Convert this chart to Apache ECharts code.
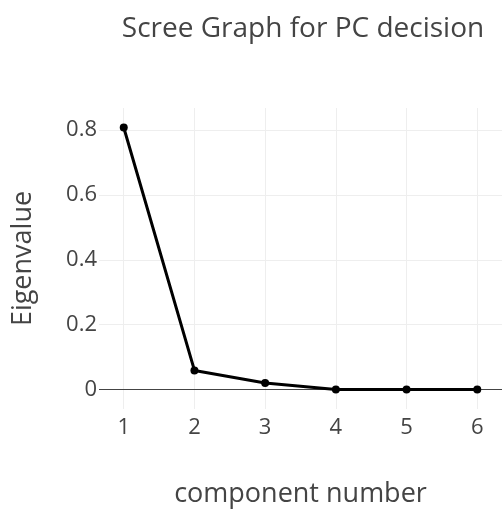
<!DOCTYPE html>
<html>
<head>
<meta charset="utf-8">
<script src="https://cdn.jsdelivr.net/npm/echarts@6/dist/echarts.min.js"></script>
<style>html,body{margin:0;padding:0;background:#fff}#c{width:502px;height:513px}</style>
</head>
<body>
<div id="c"></div>
<script>
const components = [1, 2, 3, 4, 5, 6];
const eigenvalues = [0.808, 0.059, 0.020, 0.0, 0.0, 0.0];
const yTicks = [0, 0.2, 0.4, 0.6, 0.8];
const xTicks = [1, 2, 3, 4, 5, 6];

const chart = echarts.init(document.getElementById('c'), null, {renderer: 'canvas'});
const font = '"Open Sans", sans-serif';
chart.setOption({
  animation: false,
  backgroundColor: '#fff',
  title: {
    text: 'Scree Graph for PC decision',
    left: 298, top: 10, textAlign: 'center',
    textStyle: {fontFamily: font, fontSize: 28, fontWeight: 'normal', color: '#444'}
  },
  grid: {left: 99, right: 0, top: 108, bottom: 100, containLabel: false},
  xAxis: {
    type: 'value', min: 0.65, max: 6.35,
    name: 'component number', nameLocation: 'middle', nameGap: 72,
    nameTextStyle: {fontFamily: font, fontSize: 27, color: '#444'},
    axisLine: {show: false},
    axisTick: {show: false, customValues: xTicks},
    axisLabel: {customValues: xTicks, fontFamily: font, fontSize: 22, color: '#444', margin: 8},
    splitLine: {show: true, lineStyle: {color: '#eee', width: 1}}
  },
  yAxis: {
    type: 'value', min: -0.06, max: 0.868,
    name: 'Eigenvalue', nameLocation: 'middle', nameGap: 62, nameRotate: 90,
    nameTextStyle: {fontFamily: font, fontSize: 27, color: '#444'},
    axisLine: {show: false},
    axisTick: {show: false, customValues: yTicks},
    axisLabel: {customValues: yTicks, fontFamily: font, fontSize: 22, color: '#444', margin: 2,
      padding: [8, 0, 0, 0],
      formatter: v => (v === 0 ? '0' : String(v))},
    splitLine: {show: true, lineStyle: {color: '#eee', width: 1}}
  },
  series: [{
    type: 'line',
    data: components.map((c, i) => [c, eigenvalues[i]]),
    symbol: 'circle', symbolSize: 8,
    lineStyle: {color: '#000', width: 3},
    itemStyle: {color: '#000'},
    z: 5,
    markLine: {
      silent: true, symbol: 'none', label: {show: false},
      lineStyle: {color: '#444', width: 1, type: 'solid'},
      data: [{yAxis: 0}],
      z: 3
    }
  }]
});
</script>
</body>
</html>
